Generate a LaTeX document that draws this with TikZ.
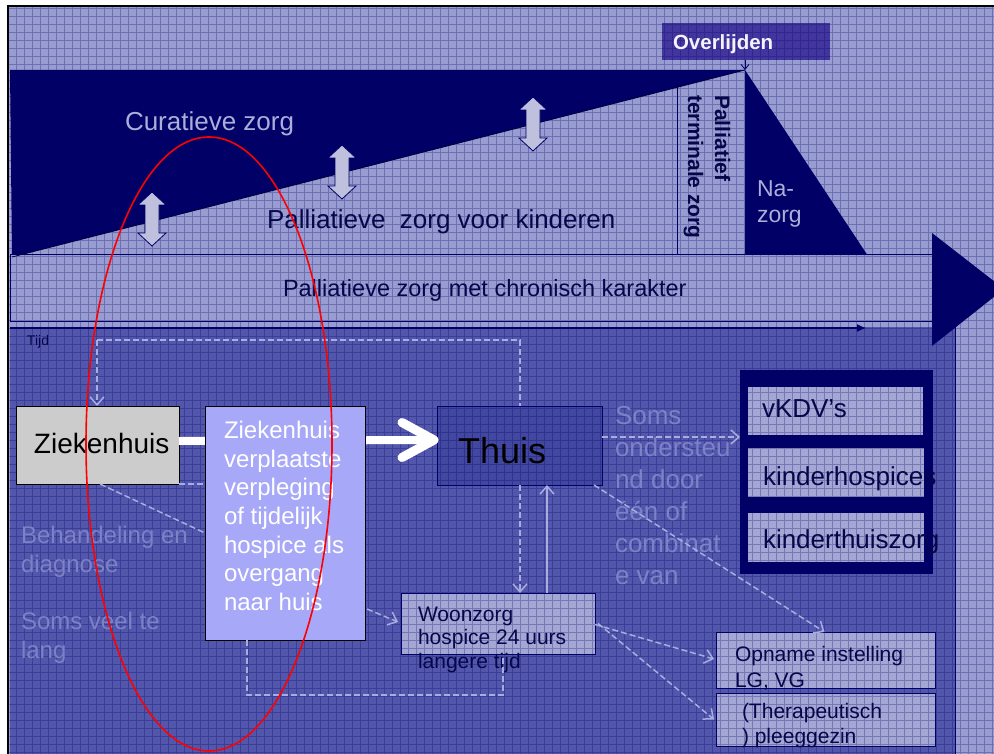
\documentclass[tikz,border=0pt]{standalone}
\usepackage{fontspec}
\setmainfont{Liberation Sans}
\usetikzlibrary{arrows.meta,calc}
\definecolor{navy}{HTML}{000066}
\definecolor{bgtop}{HTML}{989CD0}
\definecolor{bglow}{HTML}{5257AC}
\definecolor{lighttxt}{HTML}{ABAED9}
\definecolor{fainttxt}{HTML}{7D82C6}
\definecolor{dashcol}{HTML}{A8ACDE}
\definecolor{boxfill}{HTML}{A4A6D4}
\definecolor{overfill}{HTML}{42369E}
\definecolor{thuisfill}{HTML}{42479F}
\definecolor{vplfill}{HTML}{A8A8F8}
\definecolor{zhfill}{HTML}{CCCCCC}
\definecolor{dblfill}{HTML}{BEC0DE}
\definecolor{darktxt}{HTML}{06064A}
\newcommand{\fsz}[2]{\fontsize{#1}{#2}\selectfont}
\begin{document}
\begin{tikzpicture}[x=1pt,y=-1pt,
  box/.style={inner sep=0, outer sep=0, anchor=north west},
  txt/.style={inner sep=0, outer sep=0},
  dconn/.style={draw=dashcol, line width=1.5pt, dash pattern=on 6pt off 3pt},
  lconn/.style={draw=dashcol, line width=1.5pt},
  openhead/.style={-{Straight Barb[length=8pt,width=14pt]}},
  dblarrow/.pic={\draw[fill=dblfill, draw=navy, line width=0.8pt] (0,-27) -- (14,-14) -- (7,-14) -- (7,14) -- (14,14) -- (0,27) -- (-14,14) -- (-7,14) -- (-7,-14) -- (-14,-14) -- cycle;}
]
\useasboundingbox (0,0) rectangle (994,754);
\clip (0,0) rectangle (994,754);
\fill[white] (0,0) rectangle (994,754);
\fill[bgtop] (8,6) rectangle (994,754);
% lower panel
\node[box, fill=bglow, minimum width=945, minimum height=427] (panel) at (10,327) {};
% top shapes
\coordinate (apex) at (745,70);
\fill[navy] (10,70) -- (apex) -- (12,257) -- cycle;
\fill[navy] (apex) -- (745,256) -- (868,256) -- cycle;
\node[box, fill=bgtop, draw=navy, line width=1pt, minimum width=922, minimum height=67] (band) at (10,255) {};
\fill[navy] (932,233) -- (1004,289) -- (932,346) -- cycle;
\node[box, fill=overfill, minimum width=168, minimum height=37] (over) at (662,23) {};
% textured boxes
\node[box, fill=navy, minimum width=193, minimum height=204] (frame) at (740,370) {};
\node[box, fill=boxfill, draw=navy, line width=1pt, minimum width=176, minimum height=49] (vkdv) at (747,386) {};
\node[box, fill=boxfill, draw=navy, line width=1pt, minimum width=177, minimum height=50] (khosp) at (747,447) {};
\node[box, fill=boxfill, draw=navy, line width=1pt, minimum width=177, minimum height=50] (kthuis) at (747,512) {};
\node[box, fill=boxfill, draw=navy, line width=1pt, minimum width=219, minimum height=56] (opname) at (716,632) {};
\node[box, fill=boxfill, draw=navy, line width=1pt, minimum width=219, minimum height=53] (thera) at (716,693) {};
\node[box, fill=boxfill, draw=navy, line width=1pt, minimum width=194, minimum height=61] (woon) at (401,593) {};
\node[box, fill=thuisfill, draw=navy, line width=1pt, minimum width=165, minimum height=79] (thuis) at (437,406) {};
% texture grid
\draw[navy, opacity=0.28, line width=0.6pt, step=8pt] (8,754) grid (994,6);
% lines and borders
\draw[navy, line width=0.8pt] (677,87.5) -- (677,255);
\draw[navy!60!black, line width=0.8pt] (12,257) -- (apex);
\draw[black, line width=1.6pt] (8,754) -- (8,6) -- (994,6);
\draw[navy, line width=1pt] (955,327) -- (955,754);
\coordinate (t0) at (10,328);
\coordinate (t1) at (866,328);
\draw[navy, line width=1.2pt, -{Latex[length=9pt,width=8pt]}] (t0) -- (t1);
\draw[navy, line width=0.8pt, -{Straight Barb[length=5pt,width=8pt]}] (over.south -| apex) -- (apex);
% double arrows
\pic at (152,219) {dblarrow};
\pic at (342,172) {dblarrow};
\pic at (533,124) {dblarrow};
% solid boxes and white arrow
\node[box, fill=zhfill, draw=black, line width=1pt, minimum width=163, minimum height=78] (zh) at (16,406) {};
\draw[white, line width=8pt] ($(zh.east)+(0,-4)$) -- ($(thuis.west)+(-8,-5.5)$);
\node[box, fill=vplfill, draw=black, line width=1pt, minimum width=160, minimum height=234] (vpl) at (205,406) {};
\draw[white, line width=9pt, line cap=round, line join=round] ($(thuis.west)+(-35,-23)$) -- ($(thuis.west)+(-3,-5.5)$) -- ($(thuis.west)+(-35,12)$);
% texts
\node[txt, anchor=base west, text=lighttxt, font=\fsz{26}{31}] (cur) at (125,131) {Curatieve zorg};
\node[txt, anchor=base west, text=darktxt, font=\fsz{26}{31}] (pzk) at (267,229) {Palliatieve~ zorg voor kinderen};
\node[txt, rotate=-90, align=left, text=darktxt, font=\bfseries\fsz{21}{27}] (term) at (707,167) {Palliatief\\terminale zorg};
\node[txt, anchor=north west, align=left, text=lighttxt, font=\fsz{23}{26}] (naz) at (757,181) {Na-\\zorg};
\node[txt, anchor=base west, text=white!85!lighttxt, font=\bfseries\fsz{20.5}{24}] (overt) at (673,50) {Overlijden};
\node[txt, anchor=base west, text=darktxt, font=\fsz{23.5}{28}] (chron) at (283,297) {Palliatieve zorg met chronisch karakter};
\node[txt, anchor=base west, text=darktxt, font=\fsz{14}{17}] (tijd) at (27,345) {Tijd};
\node[txt, anchor=base west, font=\fsz{28}{33}] (zht) at (34,453) {Ziekenhuis};
\node[txt, anchor=north west, align=left, text=white, font=\fsz{24}{28.7}] (vplt) at (224,421) {Ziekenhuis\\verplaatste\\verpleging\\of tijdelijk\\hospice als\\overgang\\naar huis};
\node[txt, anchor=base west, font=\fsz{36}{43}] (thuist) at (458,463) {Thuis};
\node[txt, anchor=north west, align=left, text=darktxt, font=\fsz{21}{23.5}] (woont) at (418,607) {Woonzorg\\hospice 24 uurs\\langere tijd};
\node[txt, anchor=base west, text=darktxt, font=\fsz{26}{31}] (vkdvt) at (762,417) {vKDV’s};
\node[txt, anchor=base west, text=darktxt, font=\fsz{26}{31}] (khospt) at (763,485) {kinderhospices};
\node[txt, anchor=base west, text=darktxt, font=\fsz{26}{31}] (kthuist) at (763,548) {kinderthuiszorg};
\node[txt, anchor=north west, align=left, text=darktxt, font=\fsz{21}{26}] (opnamet) at (735,646) {Opname instelling\\LG, VG};
\node[txt, anchor=north west, align=left, text=darktxt, font=\fsz{21}{25}] (therat) at (742,703) {(Therapeutisch\\) pleeggezin};
\node[txt, anchor=north west, align=left, text=fainttxt, font=\fsz{24}{29}] (beh) at (21,526) {Behandeling en\\diagnose};
\node[txt, anchor=north west, align=left, text=fainttxt, font=\fsz{24}{29}] (lang) at (21,612) {Soms veel te\\lang};
\node[txt, anchor=north west, align=left, text=fainttxt, font=\fsz{26}{32}] (soms) at (615,406) {Soms\\ondersteu\\nd door\\één of\\combinat\\e van};
% connectors
\coordinate (tA) at (97,340);
\coordinate (tB) at (520,340);
\coordinate (upx) at (547,0);
\draw[dconn] (tA) -- (tB) -- (tB |- thuis.north);
\draw[dconn, openhead] (tB |- thuis.south) -- (tB |- woon.north);
\draw[dconn, openhead] (tA) -- (tA |- zh.north);
\draw[lconn, openhead] (upx |- woon.north) -- (upx |- thuis.south);
\draw[dconn, openhead] ($(thuis.east)+(0,-8.5)$) -- ($(frame.west |- thuis.east)+(0,-8.5)$);
\draw[dconn, openhead] ($(thuis.south east)+(-8,0)$) -- ($(opname.north)+(-1,0)$);
\draw[dconn] ($(zh.south west)+(84,0)$) -- ($(vpl.west)+(0,10)$);
\draw[dconn] (zh.south east) -- (vpl.west |- zh.south east);
\draw[dconn, openhead] ($(vpl.east)+(2,86)$) -- ($(woon.west)+(-3,-1.5)$);
\draw[dconn] ($(vpl.south west)+(42,0)$) -- ++(0,55) -| ($(woon.south west)+(102,3)$);
\draw[dconn, openhead] ($(woon.east)+(0,1)$) -- ($(opname.west)+(-2,-1)$);
\draw[dconn, openhead] ($(woon.east)+(3,0)$) -- ($(thera.west)+(-2,0)$);
% red ellipse
\draw[red, line width=1.6pt] (209,444) ellipse [x radius=123, y radius=307];
\end{tikzpicture}
\end{document}
